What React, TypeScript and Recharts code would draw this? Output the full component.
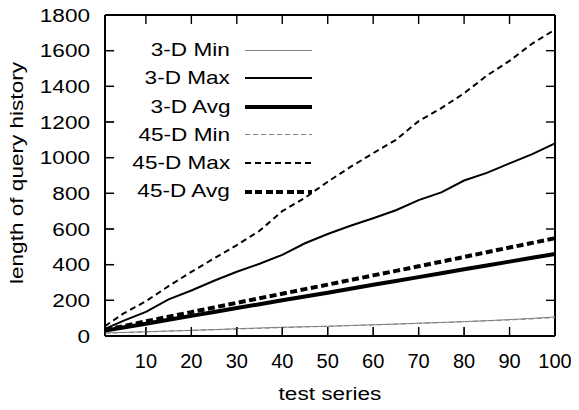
import { Legend, Line, LineChart, ReferenceLine, XAxis, YAxis } from "recharts";

const testSeries = [1, 5, 10, 15, 20, 25, 30, 35, 40, 45, 50, 55, 60, 65, 70, 75, 80, 85, 90, 95, 100];
const min3d = [17, 20, 24, 28, 32, 36, 41, 45, 49, 52, 55, 59, 63, 67, 72, 76, 81, 86, 92, 99, 107];
const max3d = [40, 85, 135, 205, 255, 310, 360, 405, 455, 520, 572, 618, 660, 705, 762, 805, 872, 915, 968, 1020, 1080];
const avg3d = [30, 48, 69, 91, 113, 135, 157, 178, 200, 222, 243, 265, 287, 308, 330, 352, 374, 395, 417, 439, 460];
const min45d = [16, 19, 23, 27, 31, 35, 39, 43, 47, 51, 54, 58, 62, 66, 71, 75, 80, 85, 90, 96, 103];
const max45d = [55, 125, 195, 280, 360, 435, 510, 590, 700, 775, 865, 948, 1025, 1100, 1205, 1278, 1361, 1460, 1543, 1640, 1718];
const avg45d = [35, 55, 82, 108, 134, 160, 186, 212, 237, 263, 288, 314, 340, 365, 391, 417, 443, 470, 496, 522, 548];

const xTicks = [10, 20, 30, 40, 50, 60, 70, 80, 90, 100];
const yTicks = [0, 200, 400, 600, 800, 1000, 1200, 1400, 1600, 1800];
const xDomain = [1, 100];
const yDomain = [0, 1800];

const series = [
  { key: "min3d", name: "3-D Min", color: "#808080", width: 1, dash: undefined, dashPx: [0, 0] },
  { key: "max3d", name: "3-D Max", color: "#000", width: 2, dash: undefined, dashPx: [0, 0] },
  { key: "avg3d", name: "3-D Avg", color: "#000", width: 4, dash: undefined, dashPx: [0, 0] },
  { key: "min45d", name: "45-D Min", color: "#808080", width: 1, dash: "5 3", dashPx: [5, 3] },
  { key: "max45d", name: "45-D Max", color: "#000", width: 2, dash: "6 4", dashPx: [6, 4] },
  { key: "avg45d", name: "45-D Avg", color: "#000", width: 4, dash: "7 3.5", dashPx: [7, 3.5] },
];

const data = testSeries.map((x, i) => ({
  x,
  min3d: min3d[i],
  max3d: max3d[i],
  avg3d: avg3d[i],
  min45d: min45d[i],
  max45d: max45d[i],
  avg45d: avg45d[i],
}));

// chart covers the whole window (body margin cancelled on the wrapper)
const W = 579;
const H = 410;
const family = "'Liberation Sans', Arial, sans-serif";
const font = { fontFamily: family, fontSize: 18.5, fill: "#000" };
// the original glyphs are wider than Arial's
const stretch = "scale(1.22,1)";
// inward tick length, in data units (~9px each way)
const xTickLen = 2;
const yTickLen = 50;

function YTick({ x, y, payload }: any) {
  return (
    <text transform={`translate(${x},${y + 6.6}) ${stretch}`} textAnchor="end" style={font}>
      {payload.value}
    </text>
  );
}

function KeyBox() {
  return (
    <div style={{ position: "relative", width: 320, height: 210 }}>
      {series.map((s, i) => {
        const cy = 50 + i * 28.3;
        const [d, g] = s.dashPx;
        const bg = d
          ? `repeating-linear-gradient(to right, ${s.color} 0 ${d}px, transparent ${d}px ${d + g}px)`
          : s.color;
        return (
          <div key={s.key}>
            <div
              style={{
                position: "absolute",
                right: 320 - 230,
                top: cy - 9.06,
                whiteSpace: "nowrap",
                fontFamily: family,
                fontSize: 18.5,
                lineHeight: "18.5px",
                color: "#000",
                transform: "scaleX(1.22)",
                transformOrigin: "right center",
              }}
            >
              {s.name}
            </div>
            <div
              style={{
                position: "absolute",
                left: 245,
                width: 67,
                top: cy - s.width / 2,
                height: s.width,
                background: bg,
              }}
            />
          </div>
        );
      })}
    </div>
  );
}

export default function App() {
  const [x0, x1] = xDomain;
  const [y0, y1] = yDomain;
  return (
    <div style={{ position: "relative", width: W, height: H, margin: "-8px 0 0 -8px" }}>
      <LineChart width={W} height={H} data={data} margin={{ top: 15, right: 24, bottom: 14, left: 8 }}>
        <XAxis
          dataKey="x"
          type="number"
          domain={xDomain}
          ticks={xTicks}
          height={60}
          stroke="#000"
          tickSize={-9}
          tickMargin={27}
          tick={{ fontFamily: family, fontSize: 20, fill: "#000" }}
          label={{
            content: () => (
              <text transform={`translate(330,400) ${stretch}`} textAnchor="middle" style={font}>
                test series
              </text>
            ),
          }}
        />
        <YAxis
          domain={yDomain}
          ticks={yTicks}
          width={97}
          stroke="#000"
          tickSize={-9}
          tickMargin={24}
          tick={<YTick />}
          label={{
            content: () => (
              <text transform={`translate(23,173) rotate(-90) ${stretch}`} textAnchor="middle" style={font}>
                length of query history
              </text>
            ),
          }}
        />
        <Legend
          layout="vertical"
          align="center"
          verticalAlign="middle"
          wrapperStyle={{ left: 0, top: 0, width: 320, height: 210 }}
          content={() => <KeyBox />}
        />
        {/* gnuplot box: frame plus inward ticks mirrored on all four sides */}
        {xTicks.map((t) => (
          <ReferenceLine key={`xb${t}`} ifOverflow="visible" segment={[{ x: t, y: y0 }, { x: t, y: y0 + yTickLen }]} stroke="#000" strokeWidth={1.4} />
        ))}
        {xTicks.map((t) => (
          <ReferenceLine key={`xt${t}`} ifOverflow="visible" segment={[{ x: t, y: y1 }, { x: t, y: y1 - yTickLen }]} stroke="#000" strokeWidth={1.4} />
        ))}
        {yTicks.map((t) => (
          <ReferenceLine key={`yl${t}`} ifOverflow="visible" segment={[{ x: x0, y: t }, { x: x0 + xTickLen, y: t }]} stroke="#000" strokeWidth={1.4} />
        ))}
        {yTicks.map((t) => (
          <ReferenceLine key={`yr${t}`} ifOverflow="visible" segment={[{ x: x1, y: t }, { x: x1 - xTickLen, y: t }]} stroke="#000" strokeWidth={1.4} />
        ))}
        <ReferenceLine y={y0} ifOverflow="visible" stroke="#000" strokeWidth={2} />
        <ReferenceLine y={y1} ifOverflow="visible" stroke="#000" strokeWidth={2} />
        <ReferenceLine x={x0} ifOverflow="visible" stroke="#000" strokeWidth={2} />
        <ReferenceLine x={x1} ifOverflow="visible" stroke="#000" strokeWidth={2} />
        {series.map((s) => (
          <Line
            key={s.key}
            dataKey={s.key}
            name={s.name}
            type="linear"
            stroke={s.color}
            strokeWidth={s.width}
            strokeDasharray={s.dash}
            dot={false}
            isAnimationActive={false}
          />
        ))}
      </LineChart>
    </div>
  );
}
